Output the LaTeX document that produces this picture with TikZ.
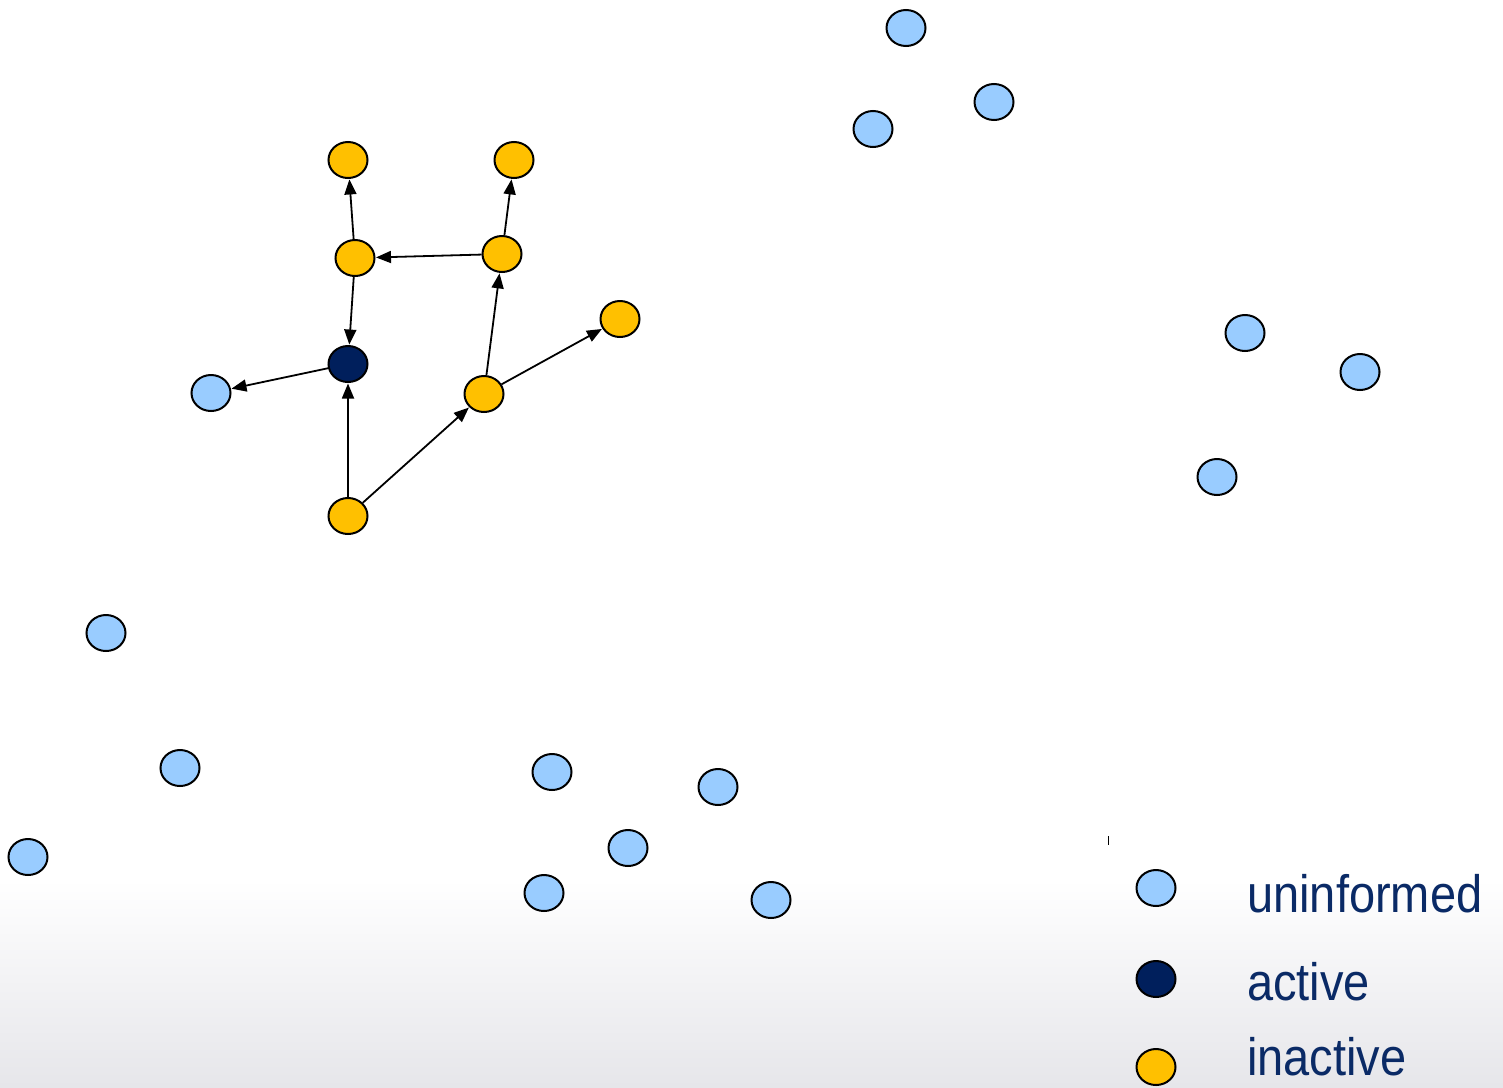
\documentclass[tikz,border=0pt]{standalone}
\usepackage{fontspec}
\setmainfont{Liberation Sans}
\usetikzlibrary{shapes.geometric,arrows.meta}
\definecolor{uninf}{HTML}{99CCFF}
\definecolor{act}{HTML}{001F5C}
\definecolor{inact}{HTML}{FFC000}
\definecolor{txt}{HTML}{0A2A66}
\definecolor{bggrey}{HTML}{E6E6EA}
\tikzset{
  nd/.style={ellipse, draw=black, line width=2pt, minimum width=39pt, minimum height=36pt, inner sep=0pt},
  unn/.style={nd, fill=uninf},
  acn/.style={nd, fill=act},
  inn/.style={nd, fill=inact},
  edge/.style={line width=1.8pt, -{Triangle[length=15pt,width=12pt]}, shorten >=0.5pt},
  lab/.style={anchor=base west, text=txt, font=\fontsize{47}{50}\selectfont, inner sep=0pt, yscale=1.12, transform shape}
}
\begin{document}
\begin{tikzpicture}[x=1pt,y=-1pt]
\useasboundingbox (0,0) rectangle (1503,1087);
\fill[white] (0,0) rectangle (1503,880);
\shade[top color=white, bottom color=bggrey] (0,879) rectangle (1503,1087);
% uninformed nodes
\node[unn] (b1) at (906,28) {};
\node[unn] (b2) at (994,102) {};
\node[unn] (b3) at (873,129) {};
\node[unn] (b4) at (1245,333) {};
\node[unn] (b5) at (1360,372) {};
\node[unn] (b6) at (1217,477) {};
\node[unn] (b7) at (211,393) {};
\node[unn] (b8) at (106,633) {};
\node[unn] (b9) at (180,768) {};
\node[unn] (b10) at (28,857) {};
\node[unn] (b11) at (552,772) {};
\node[unn] (b12) at (718,787) {};
\node[unn] (b13) at (628,848) {};
\node[unn] (b14) at (544,893) {};
\node[unn] (b15) at (771,900) {};
% cascade
\node[inn] (o1) at (348,160) {};
\node[inn] (o2) at (514,160) {};
\node[inn] (o3) at (355,258) {};
\node[inn] (o4) at (502,254) {};
\node[inn] (o5) at (620,319) {};
\node[acn] (a) at (348,364) {};
\node[inn] (o6) at (484,394) {};
\node[inn] (o7) at (348,516) {};
\draw[edge] (o3) -- (o1);
\draw[edge] (o4) -- (o2);
\draw[edge] (o4) -- (o3);
\draw[edge] (o3) -- (a);
\draw[edge] (a) -- (b7);
\draw[edge] (o7) -- (a);
\draw[edge] (o7) -- (o6);
\draw[edge] (o6) -- (o4);
\draw[edge] (o6) -- (o5);
% small tick
\draw[line width=1pt] (1108,836) -- (1108,845);
% legend
\node[unn] (lu) at (1156,888) {};
\node[acn] (la) at (1156,979) {};
\node[inn] (li) at (1156,1067) {};
\node[lab] (tu) at (1247,912) {uninformed};
\node[lab] (ta) at (1247,1000) {active};
\node[lab] (ti) at (1247,1075) {inactive};
\end{tikzpicture}
\end{document}
